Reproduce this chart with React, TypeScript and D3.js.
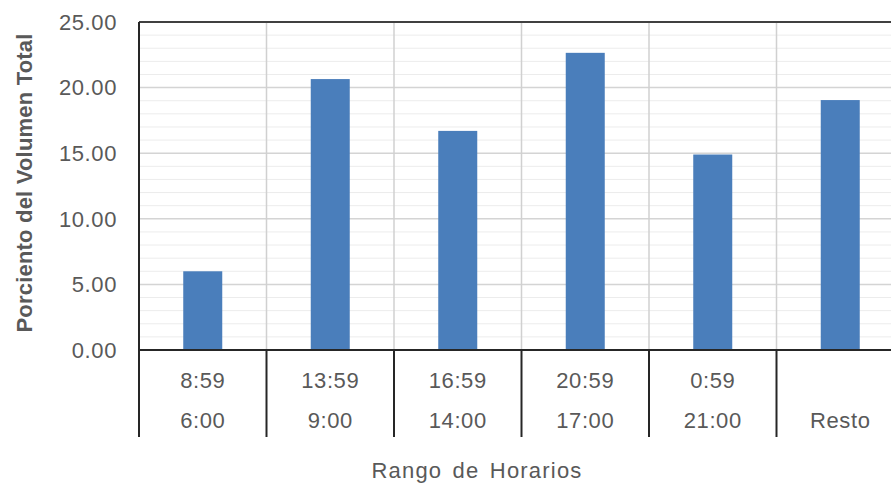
import React from 'react';
import * as d3 from 'd3';

// data
const categories = ['c1', 'c2', 'c3', 'c4', 'c5', 'c6'];
const upperLabels = ['8:59', '13:59', '16:59', '20:59', '0:59', ''];
const lowerLabels = ['6:00', '9:00', '14:00', '17:00', '21:00', 'Resto'];
const values = [6.0, 20.65, 16.7, 22.65, 14.9, 19.05];
const yTicks = [0, 5, 10, 15, 20, 25];

const width = 891;
const height = 484;
const margin = { top: 22, left: 139, bottom: 350, right: 904 };
const font = '"Liberation Sans", Arial, sans-serif';
const textColor = '#595959';

function App() {
    const x = d3.scaleBand<string>()
        .domain(categories)
        .range([margin.left, margin.right])
        .paddingInner(0);

    const y = d3.scaleLinear()
        .domain([0, 25])
        .range([margin.bottom, margin.top]);

    const minor = d3.range(0, 26, 1).filter(v => v % 5 !== 0);
    const barW = 39;
    const tickBottom = 437;

    return (
        <svg width={width} height={height} style={{ position: 'absolute', left: 0, top: 0, background: '#fff' }}>
            {/* minor grid */}
            {minor.map(v => (
                <line key={'m' + v} x1={margin.left} x2={width} y1={y(v)} y2={y(v)} stroke="#ececec" strokeWidth={1} />
            ))}
            {/* major grid */}
            {yTicks.map(v => (
                <line key={'M' + v} x1={margin.left} x2={width} y1={y(v)} y2={y(v)} stroke="#d4d4d4" strokeWidth={1.5} />
            ))}
            {/* vertical category grid */}
            {categories.slice(1).map(c => (
                <line key={'v' + c} x1={x(c)!} x2={x(c)!} y1={margin.top} y2={margin.bottom} stroke="#d0d0d0" strokeWidth={1.5} />
            ))}
            {/* bars */}
            {categories.map((c, i) => (
                <rect key={c} x={x(c)! + x.bandwidth() / 2 - barW / 2} y={y(values[i])}
                    width={barW} height={y(0) - y(values[i])} fill="#4a7ebb" />
            ))}
            {/* plot frame */}
            <line x1={margin.left} x2={width} y1={margin.top} y2={margin.top} stroke="#404040" strokeWidth={2} />
            <line x1={margin.left} x2={margin.left} y1={margin.top} y2={tickBottom} stroke="#262626" strokeWidth={2} />
            <line x1={margin.left} x2={width} y1={margin.bottom} y2={margin.bottom} stroke="#262626" strokeWidth={2} />
            {/* category separators below axis */}
            {categories.slice(1).map(c => (
                <line key={'s' + c} x1={x(c)!} x2={x(c)!} y1={margin.bottom} y2={tickBottom} stroke="#262626" strokeWidth={2} />
            ))}
            {/* y tick labels */}
            {yTicks.map(v => (
                <text key={'t' + v} x={117} y={y(v)} dy="0.35em" textAnchor="end" letterSpacing={0.6}
                    fontFamily={font} fontSize={22} fill={textColor}>{v.toFixed(2)}</text>
            ))}
            {/* category labels */}
            {categories.map((c, i) => (
                <g key={'l' + c} fontFamily={font} fontSize={22} fill={textColor} textAnchor="middle" letterSpacing={0.6}>
                    <text x={x(c)! + x.bandwidth() / 2} y={380} dy="0.35em">{upperLabels[i]}</text>
                    <text x={x(c)! + x.bandwidth() / 2} y={420} dy="0.35em">{lowerLabels[i]}</text>
                </g>
            ))}
            {/* axis titles */}
            <text x={477} y={470} dy="0.35em" textAnchor="middle" fontFamily={font} fontSize={22}
                letterSpacing={1.2} wordSpacing={3} fill={textColor}>
                Rango de Horarios
            </text>
            <text transform={`translate(24,${183}) rotate(-90)`} dy="0.35em" textAnchor="middle"
                fontFamily={font} fontSize={22} fontWeight="bold" letterSpacing={0.2} fill={textColor}>
                Porciento del Volumen Total
            </text>
        </svg>
    );
}

export default App;
